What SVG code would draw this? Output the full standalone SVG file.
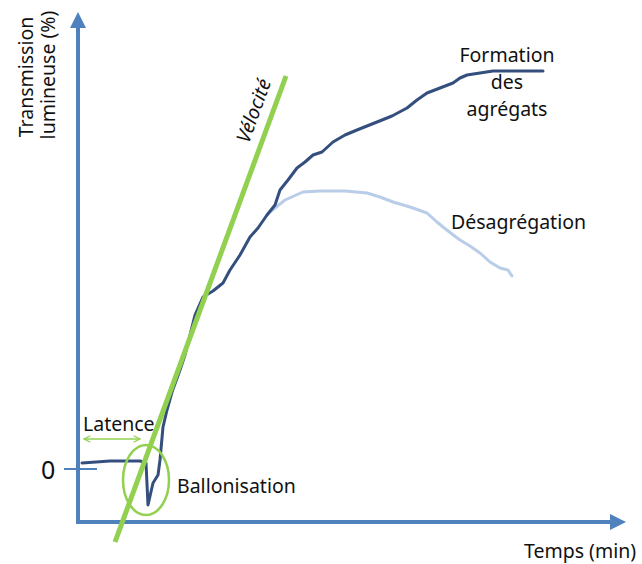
<svg xmlns="http://www.w3.org/2000/svg" width="642" height="564" viewBox="0 0 642 564">
<style>
text{font-family:"Noto Sans","Open Sans","Liberation Sans",sans-serif;font-size:19.5px;fill:#111}
.ax{stroke:#4F81BD;stroke-width:4;fill:none}
.g{stroke:#92D050;fill:none}
</style>
<defs>
<marker id="ah" viewBox="0 0 10 10" refX="0" refY="5" markerWidth="4" markerHeight="4" orient="auto" markerUnits="strokeWidth"><path d="M0,0L10,5L0,10z" fill="#4F81BD"/></marker>
<marker id="ga" viewBox="0 0 10 10" refX="9" refY="5" markerWidth="8" markerHeight="8" orient="auto-start-reverse" markerUnits="userSpaceOnUse"><path d="M1,1L9,5L1,9" fill="none" stroke="#92D050" stroke-width="1.5"/></marker>
</defs>
<g id="axes">
<path class="ax" d="M78,524V28" marker-end="url(#ah)"/>
<path class="ax" d="M76,522H610" marker-end="url(#ah)"/>
<path d="M64,469H97" stroke="#4F81BD" stroke-width="2"/>
<text x="41" y="479" style="font-size:25px">0</text>
</g>
<g id="ylabel">
<text transform="translate(33,77) rotate(-90)" text-anchor="middle">Transmission</text>
<text transform="translate(55,75) rotate(-90)" text-anchor="middle">lumineuse (%)</text>
</g>
<text x="524" y="558">Temps (min)</text>
<g id="curves">
<path d="M267,215L270,212L285,200L303,192L320,191L345,191L367,193L380,197L393,202L410,207L427,213L437,222L443,227L452,234L460,240L470,246L480,253L490,262L500,268L508,270L512,276" fill="none" stroke="#B9CDE8" stroke-width="3" stroke-linecap="round" stroke-linejoin="round"/>
<path d="M82,463L110,461L140,461L146,463L148,505L153,483L158,475L160,460L163,427L167,410L172,392L180,370L185,355L190,335L195,315L203,297L213,291L223,283L230,270L240,255L250,237L258,228L267,215L275,205L280,190L288,180L297,168L305,162L313,155L322,152L333,142L345,135L357,130L367,126L377,122L392,116L407,108L417,100L427,93L440,88L453,83L460,78L467,75L480,73L493,71L520,71L543,71" fill="none" stroke="#344F7E" stroke-width="3" stroke-linecap="round" stroke-linejoin="round"/>
</g>
<g id="velocite">
<path class="g" d="M115,542L286,76" stroke-width="5"/>
<text transform="translate(260,113) rotate(-70)" text-anchor="middle" style="font-style:italic">Vélocité</text>
</g>
<g id="latence">
<path class="g" d="M84,439H140" stroke-width="1.5" marker-start="url(#ga)" marker-end="url(#ga)"/>
<text x="83" y="431">Latence</text>
</g>
<g id="ballonisation">
<ellipse class="g" cx="146" cy="480" rx="23" ry="35" stroke-width="2.5"/>
<text x="177" y="493">Ballonisation</text>
</g>
<g id="formation">
<text x="507" y="62" text-anchor="middle">Formation</text>
<text x="507" y="89" text-anchor="middle">des</text>
<text x="507" y="116" text-anchor="middle">agrégats</text>
</g>
<g id="desagregation">
<text x="451" y="229">Désagrégation</text>
</g>
</svg>
